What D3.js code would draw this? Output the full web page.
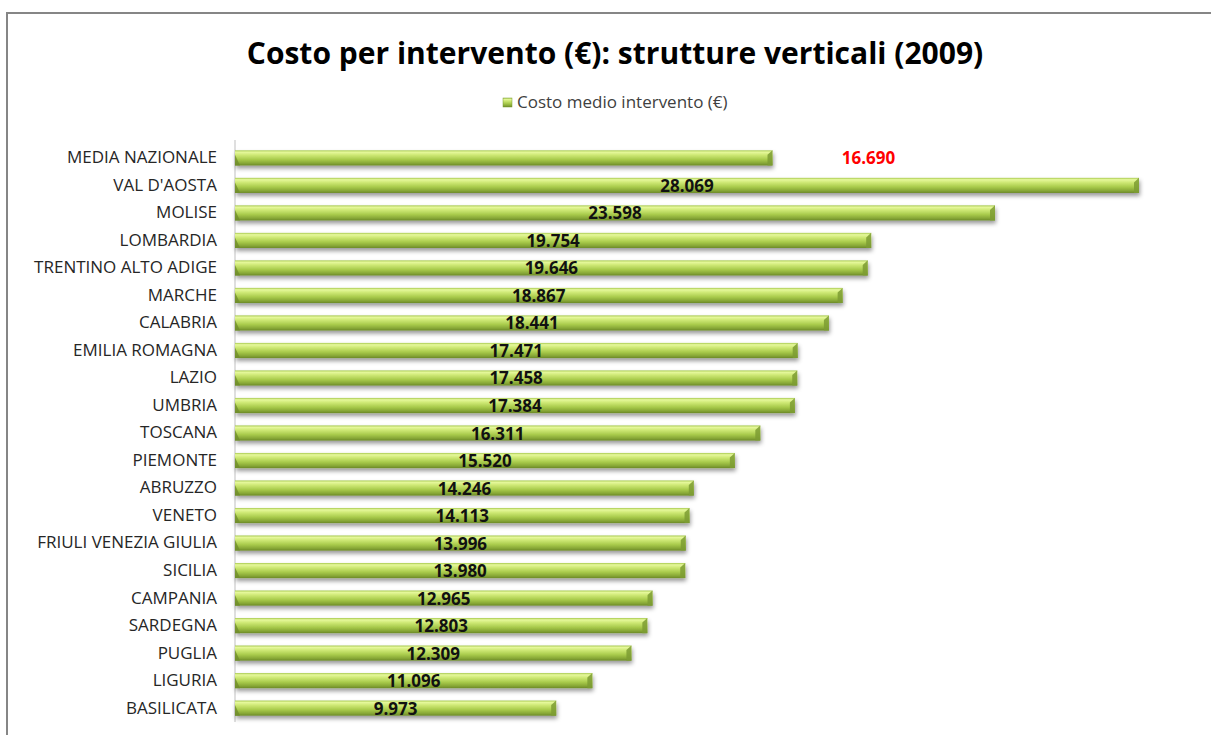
<!DOCTYPE html>
<html>
<head>
<meta charset="utf-8">
<script src="https://cdn.jsdelivr.net/npm/d3@7"></script>
<style>
  body { margin: 0; background: #fff; }
  svg { display: block; }
</style>
</head>
<body>
<script>
// data
const regions = ["MEDIA NAZIONALE", "VAL D'AOSTA", "MOLISE", "LOMBARDIA", "TRENTINO ALTO ADIGE",
  "MARCHE", "CALABRIA", "EMILIA ROMAGNA", "LAZIO", "UMBRIA", "TOSCANA", "PIEMONTE", "ABRUZZO",
  "VENETO", "FRIULI VENEZIA GIULIA", "SICILIA", "CAMPANIA", "SARDEGNA", "PUGLIA", "LIGURIA", "BASILICATA"];
const costs = [16690, 28069, 23598, 19754, 19646, 18867, 18441, 17471, 17458, 17384, 16311,
  15520, 14246, 14113, 13996, 13980, 12965, 12803, 12309, 11096, 9973];
const seriesName = "Costo medio intervento (€)";
const chartTitle = "Costo per intervento (€): strutture verticali (2009)";

const W = 1211, H = 735;
const font = "'Open Sans', 'Noto Sans', sans-serif";
const fmt = d3.format(",");
const itFmt = v => fmt(v).replace(/,/g, ".");

const svg = d3.select("body").append("svg").attr("width", W).attr("height", H);
const defs = svg.append("defs");

const grad = defs.append("linearGradient").attr("id", "barGrad")
  .attr("x1", 0).attr("y1", 0).attr("x2", 0).attr("y2", 1);
[[0, "#a6c84e"], [0.12, "#e6f89c"], [0.3, "#cfe976"], [0.6, "#a9cb4c"], [0.85, "#87a736"], [1, "#6c8a28"]]
  .forEach(s => grad.append("stop").attr("offset", s[0]).attr("stop-color", s[1]));

const shadow = defs.append("filter").attr("id", "shadow")
  .attr("x", "-5%").attr("y", "-50%").attr("width", "110%").attr("height", "250%");
shadow.append("feDropShadow").attr("dx", 1).attr("dy", 3).attr("stdDeviation", 2)
  .attr("flood-color", "#000").attr("flood-opacity", 0.4);

// frame of the chart area
svg.append("rect").attr("x", 7).attr("y", 13).attr("width", 1230).attr("height", 760)
  .attr("fill", "#fff").attr("stroke", "#868686").attr("stroke-width", 2);

svg.append("text").attr("x", 615).attr("y", 64).attr("text-anchor", "middle")
  .attr("font-family", font).attr("font-weight", "bold").attr("font-size", 30)
  .attr("fill", "#000").text(chartTitle);

// legend
const leg = svg.append("g").attr("transform", "translate(503,98)");
leg.append("rect").attr("width", 9).attr("height", 9).attr("fill", "url(#barGrad)")
  .attr("stroke", "#7a9a30").attr("stroke-width", 0.5);
leg.append("text").attr("x", 14).attr("y", 10).attr("font-family", font).attr("font-size", 17)
  .attr("fill", "#404040").text(seriesName);

const x = d3.scaleLinear().domain([0, 28069]).range([235, 1139]);
const y = d3.scaleBand().domain(regions).range([144, 722]).paddingInner(0.45).paddingOuter(0.23);

// category axis
const yAxis = svg.append("g").attr("transform", `translate(${x(0)},0)`)
  .call(d3.axisLeft(y).tickSize(0).tickPadding(18));
yAxis.select(".domain").attr("stroke", "#bfbfbf").attr("d", `M0,140V722`);
yAxis.selectAll("text").attr("font-family", font).attr("font-size", 17).attr("fill", "#262626");

const bh = y.bandwidth();
const bars = svg.append("g").selectAll("g").data(regions).join("g")
  .attr("transform", d => `translate(0,${y(d)})`);

bars.append("rect")
  .attr("x", x(0)).attr("y", 0)
  .attr("width", (d, i) => x(costs[i]) - x(0)).attr("height", bh)
  .attr("fill", "url(#barGrad)").attr("filter", "url(#shadow)");

// bevelled ends
bars.append("path")
  .attr("d", (d, i) => {
    const xe = x(costs[i]);
    return `M${xe - 5},${bh * 0.3}L${xe},0L${xe},${bh}L${xe - 5},${bh}Z`;
  })
  .attr("fill", "#7d9c32").attr("opacity", 0.85);
bars.append("path")
  .attr("d", `M${x(0)},${bh * 0.3}L${x(0) + 5},${bh}L${x(0)},${bh}Z`)
  .attr("fill", "#6f8c2a").attr("opacity", 0.8);

// value labels
bars.append("text")
  .attr("x", (d, i) => i === 0 ? x(costs[i]) + 96 : (x(0) + x(costs[i])) / 2)
  .attr("y", bh / 2 + 6.5)
  .attr("text-anchor", "middle")
  .attr("font-family", font).attr("font-weight", "bold").attr("font-size", 17)
  .attr("fill", (d, i) => i === 0 ? "#ff0000" : "#111")
  .text((d, i) => itFmt(costs[i]));
</script>
</body>
</html>
